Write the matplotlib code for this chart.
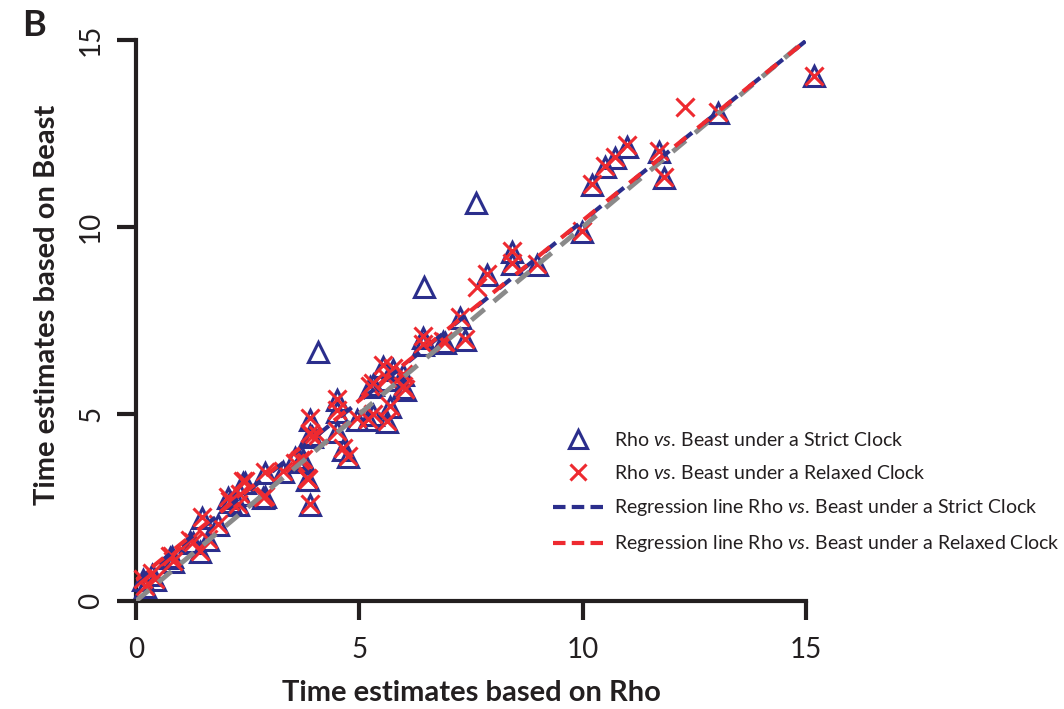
import numpy as np
import matplotlib
matplotlib.use("Agg")
import matplotlib.pyplot as plt
from matplotlib.lines import Line2D

# values
strict_rho = [15.19, 13.02, 11.00, 10.72, 10.49, 10.22, 11.72, 11.81, 9.98,
              7.85, 8.41, 8.41, 8.97, 7.25, 7.36, 6.91, 6.42, 6.42, 6.44,
              7.61, 4.07, 4.50, 4.50, 3.89, 3.89, 3.85, 3.89, 3.74, 3.56,
              4.63, 4.74, 4.50, 4.94, 5.19, 5.61, 5.30, 5.68, 5.23, 5.97,
              5.61, 5.30, 5.75, 5.97, 6.02, 5.53, 6.87, 3.94, 3.83,
              2.89, 3.29, 3.67, 2.89, 2.33, 2.44, 2.10,
              1.48, 1.21, 0.81, 1.43, 1.61, 1.83, 2.06, 2.28, 2.39, 2.84,
              0.16, 0.36, 0.20, 0.43, 0.76, 0.83, 1.28]
strict_beast = [14.03, 13.05, 12.14, 11.84, 11.60, 11.12, 12.00, 11.31, 9.87,
                8.72, 9.32, 9.02, 8.98, 7.57, 6.98, 6.89, 7.03, 6.84, 8.40,
                10.64, 6.66, 5.37, 5.05, 4.84, 4.44, 3.24, 2.57, 3.77, 3.82,
                4.04, 3.85, 4.52, 4.84, 4.84, 4.79, 4.97, 5.19, 5.72, 5.70,
                5.91, 5.78, 6.18, 6.04, 5.64, 6.26, 6.93, 4.39, 3.24,
                3.42, 3.45, 3.72, 2.78, 2.83, 3.16, 2.65,
                2.22, 1.58, 1.18, 1.31, 1.63, 2.03, 2.75, 2.57, 3.16, 2.75,
                0.56, 0.70, 0.37, 0.56, 1.15, 1.04, 1.55]

relaxed_rho = [15.19, 13.02, 11.00, 10.72, 10.49, 10.22, 11.72, 11.81, 9.98,
               7.85, 8.41, 8.41, 8.97, 7.25, 7.36, 6.91, 6.42, 6.42, 12.28,
               7.63, 4.07, 4.50, 4.50, 3.89, 3.89, 3.85, 3.89, 3.74, 3.56,
               4.63, 4.74, 4.50, 4.94, 5.19, 5.61, 5.30, 5.68, 5.23, 5.97,
               5.61, 5.30, 5.75, 5.97, 6.02, 5.53, 6.87, 3.94, 3.83,
               2.89, 3.29, 3.67, 2.89, 2.33, 2.44, 2.10,
               1.48, 1.21, 0.81, 1.43, 1.61, 1.83, 2.06, 2.28, 2.39, 2.84,
               0.16, 0.36, 0.20, 0.43, 0.76, 0.83, 1.28]
relaxed_beast = [14.05, 13.08, 12.18, 11.86, 11.64, 11.14, 12.02, 11.34, 9.90,
                 8.75, 9.36, 9.05, 9.00, 7.60, 7.00, 6.92, 7.08, 6.88, 13.21,
                 8.40, 4.45, 5.40, 5.10, 4.88, 4.48, 3.27, 2.60, 3.80, 3.70,
                 4.08, 3.88, 4.55, 4.88, 4.86, 4.82, 5.00, 5.22, 5.76, 5.74,
                 5.95, 5.82, 6.22, 6.08, 5.68, 6.30, 6.96, 4.42, 3.28,
                 3.45, 3.48, 3.76, 2.82, 2.87, 3.20, 2.68,
                 2.25, 1.62, 1.21, 1.34, 1.66, 2.06, 2.78, 2.60, 3.20, 2.78,
                 0.60, 0.74, 0.40, 0.60, 1.19, 1.08, 1.59]

# regression lines and the 1:1 line
fit_x = [0, 15]
strict_fit = [0.52, 14.98]
relaxed_fit = [0.56, 14.98]
identity = [0, 15]

ticks = [0, 5, 10, 15]

navy = "#2b2e8c"
red = "#ee2a30"
grey = "#8a8a8a"
ink = "#231f20"

plt.rcParams['font.family'] = ['Lato', 'DejaVu Sans']
plt.rcParams['mathtext.fontset'] = 'custom'
plt.rcParams['mathtext.it'] = 'Lato:italic'
plt.rcParams['mathtext.rm'] = 'Lato'

fig = plt.figure(figsize=(10.64, 7.09), dpi=100)
ax = fig.add_axes([136/1064, 108/709, 670/1064, 561/709])
ax.set_xlim(0, 15)
ax.set_ylim(0, 15)

ax.plot(strict_rho, strict_beast, linestyle='none', marker='^', ms=15,
        mfc='none', mec=navy, mew=2.2, clip_on=False, zorder=3)
ax.plot(relaxed_rho, relaxed_beast, linestyle='none', marker='x', ms=13,
        mec=red, mew=2.2, clip_on=False, zorder=4)

ax.plot(fit_x, identity, color=grey, lw=3.5, dashes=(3.5, 2.5), zorder=5)
ax.plot(fit_x, strict_fit, color=navy, lw=3, linestyle=(0, (3.5, 3.5)), zorder=6)
ax.plot(fit_x, relaxed_fit, color=red, lw=3, linestyle=(2, (3.5, 3.5)), zorder=7)

for s in ['top', 'right']:
    ax.spines[s].set_visible(False)
for s in ['left', 'bottom']:
    ax.spines[s].set_linewidth(3)
    ax.spines[s].set_color(ink)

ax.set_xticks(ticks)
ax.set_yticks(ticks)
ax.tick_params(length=14, width=3, color=ink, labelsize=20, labelcolor=ink)
ax.tick_params(axis='x', pad=12)
ax.tick_params(axis='y', pad=9)
for lab in ax.get_yticklabels():
    lab.set_rotation(90)
    lab.set_va('center')

ax.set_xlabel("Time estimates based on Rho", fontsize=21, fontweight='bold',
              color=ink)
ax.xaxis.set_label_coords(0.5, -0.14)
ax.set_ylabel("Time estimates based on Beast", fontsize=21, fontweight='bold',
              color=ink)
ax.yaxis.set_label_coords(-0.113, 0.527)

fig.text(22/1064, 1 - 25/709, "B", fontsize=26, fontweight='bold', color=ink,
         va='center', ha='left')

handles = [
    Line2D([], [], linestyle='none', marker='^', ms=13, mfc='none', mec=navy, mew=2.2),
    Line2D([], [], linestyle='none', marker='x', ms=12, mec=red, mew=2.2),
    Line2D([], [], color=navy, lw=3, dashes=(3, 1.5)),
    Line2D([], [], color=red, lw=3, dashes=(3, 1.5)),
]
labels = [
    r"Rho $\it{vs.}\,$Beast under a Strict Clock",
    r"Rho $\it{vs.}\,$Beast under a Relaxed Clock",
    r"Regression line Rho $\it{vs.}\,$Beast under a Strict Clock",
    r"Regression line Rho $\it{vs.}\,$Beast under a Relaxed Clock",
]
leg = fig.legend(handles, labels, loc='upper left', frameon=False,
                 bbox_to_anchor=(553/1064, 1 - 431/709), fontsize=14,
                 handlelength=2.55, handletextpad=0.6, labelspacing=0.78,
                 borderpad=0, borderaxespad=0)
for t in leg.get_texts():
    t.set_color(ink)

fig.savefig("out.png", dpi=100)
